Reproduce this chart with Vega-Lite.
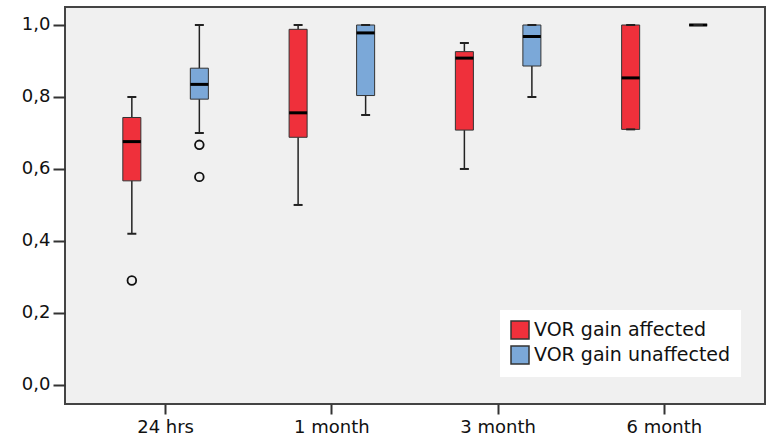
{
  "$schema": "https://vega.github.io/schema/vega-lite/v6.json",
  "width": 700,
  "height": 397,
  "autosize": {"type": "none"},
  "padding": {"left": 65, "top": 7, "right": 4, "bottom": 38},
  "background": "white",
  "config": {
    "view": {"fill": "#f0f0f0", "stroke": "#444444", "strokeWidth": 2},
    "font": "DejaVu Sans",
    "axis": {
      "labelFont": "DejaVu Sans",
      "labelFontSize": 18,
      "labelColor": "#111111",
      "tickColor": "#333333",
      "tickWidth": 2,
      "domain": false,
      "grid": false,
      "title": null
    }
  },
  "datasets": {
    "boxes": [
      {"time": "24 hrs", "group": "VOR gain affected", "min": 0.42, "q1": 0.567, "median": 0.676, "q3": 0.743, "max": 0.80},
      {"time": "24 hrs", "group": "VOR gain unaffected", "min": 0.70, "q1": 0.794, "median": 0.835, "q3": 0.88, "max": 1.0},
      {"time": "1 month", "group": "VOR gain affected", "min": 0.50, "q1": 0.688, "median": 0.756, "q3": 0.988, "max": 1.0},
      {"time": "1 month", "group": "VOR gain unaffected", "min": 0.75, "q1": 0.804, "median": 0.978, "q3": 1.0, "max": 1.0},
      {"time": "3 month", "group": "VOR gain affected", "min": 0.60, "q1": 0.708, "median": 0.908, "q3": 0.926, "max": 0.95},
      {"time": "3 month", "group": "VOR gain unaffected", "min": 0.80, "q1": 0.886, "median": 0.968, "q3": 1.0, "max": 1.0},
      {"time": "6 month", "group": "VOR gain affected", "min": 0.71, "q1": 0.71, "median": 0.853, "q3": 1.0, "max": 1.0},
      {"time": "6 month", "group": "VOR gain unaffected", "min": 1.0, "q1": 1.0, "median": 1.0, "q3": 1.0, "max": 1.0}
    ],
    "outliers": [
      {"time": "24 hrs", "group": "VOR gain affected", "value": 0.29},
      {"time": "24 hrs", "group": "VOR gain unaffected", "value": 0.667},
      {"time": "24 hrs", "group": "VOR gain unaffected", "value": 0.578}
    ]
  },
  "encoding": {
    "x": {
      "field": "time",
      "type": "nominal",
      "sort": ["24 hrs", "1 month", "3 month", "6 month"],
      "scale": {"paddingInner": 0, "paddingOuter": 0.105},
      "axis": {"labelAngle": 0, "tickSize": 10, "labelPadding": 4}
    },
    "xOffset": {
      "field": "group",
      "type": "nominal",
      "sort": ["VOR gain affected", "VOR gain unaffected"],
      "scale": {"paddingInner": 0.733, "paddingOuter": 0.598}
    }
  },
  "layer": [
    {
      "data": {"name": "boxes"},
      "mark": {"type": "rule", "color": "#222222", "strokeWidth": 1.5},
      "encoding": {
        "y": {
          "field": "min",
          "type": "quantitative",
          "scale": {"domain": [-0.053, 1.05], "nice": false, "zero": false},
          "axis": {
            "values": [0, 0.2, 0.4, 0.6, 0.8, 1.0],
            "labelExpr": "replace(format(datum.value, '.1f'), '.', ',')",
            "tickSize": 12,
            "labelPadding": 3
          }
        },
        "y2": {"field": "q1"}
      }
    },
    {
      "data": {"name": "boxes"},
      "mark": {"type": "rule", "color": "#222222", "strokeWidth": 1.5},
      "encoding": {
        "y": {"field": "q3", "type": "quantitative"},
        "y2": {"field": "max"}
      }
    },
    {
      "data": {"name": "boxes"},
      "mark": {"type": "bar", "stroke": "#333333", "strokeWidth": 1, "opacity": 1},
      "encoding": {
        "y": {"field": "q1", "type": "quantitative"},
        "y2": {"field": "q3"},
        "fill": {
          "field": "group",
          "type": "nominal",
          "scale": {"domain": ["VOR gain affected", "VOR gain unaffected"], "range": ["#ef303b", "#7ba8d8"]},
          "legend": {
            "orient": "none",
            "legendX": 435,
            "legendY": 303,
            "title": null,
            "fillColor": "white",
            "padding": 10,
            "symbolType": "square",
            "symbolSize": 324,
            "symbolStrokeColor": "#333333",
            "symbolStrokeWidth": 1.5,
            "symbolOpacity": 1,
            "labelFontSize": 19,
            "labelFont": "DejaVu Sans",
            "labelColor": "#111111",
            "labelLimit": 400,
            "labelExpr": "datum.label + '\u00a0\u00a0\u00a0\u00a0\u00a0'",
            "rowPadding": 1,
            "labelOffset": 4
          }
        }
      }
    },
    {
      "data": {"name": "boxes"},
      "mark": {"type": "tick", "color": "#000000", "size": 18, "thickness": 3, "opacity": 1},
      "encoding": {"y": {"field": "median", "type": "quantitative"}}
    },
    {
      "data": {"name": "boxes"},
      "mark": {"type": "tick", "color": "#222222", "size": 9, "thickness": 2, "opacity": 1},
      "encoding": {"y": {"field": "min", "type": "quantitative"}}
    },
    {
      "data": {"name": "boxes"},
      "mark": {"type": "tick", "color": "#222222", "size": 9, "thickness": 2, "opacity": 1},
      "encoding": {"y": {"field": "max", "type": "quantitative"}}
    },
    {
      "data": {"name": "outliers"},
      "mark": {"type": "point", "shape": "circle", "filled": false, "stroke": "#111111", "strokeWidth": 1.8, "size": 75, "opacity": 1},
      "encoding": {"y": {"field": "value", "type": "quantitative"}}
    }
  ]
}
